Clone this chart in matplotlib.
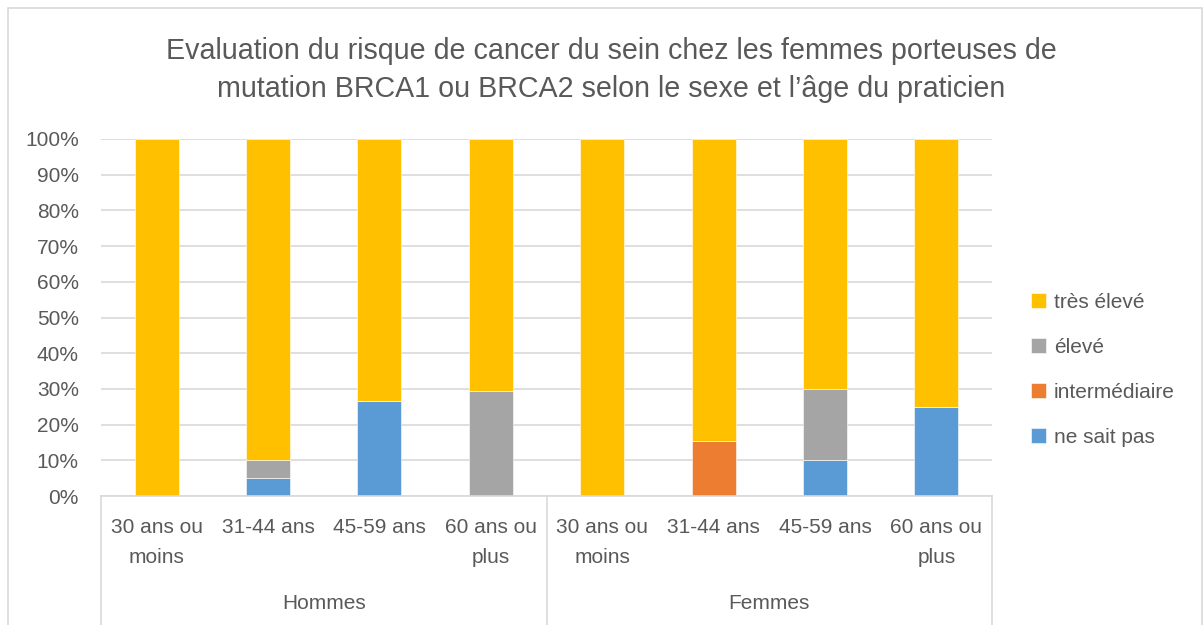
import numpy as np
import matplotlib
matplotlib.use('Agg')
import matplotlib.pyplot as plt
from matplotlib.transforms import blended_transform_factory

# data (percent)
age_labels = ['30 ans ou\nmoins', '31-44 ans', '45-59 ans', '60 ans ou\nplus',
              '30 ans ou\nmoins', '31-44 ans', '45-59 ans', '60 ans ou\nplus']
groups = ['Hommes', 'Femmes']
ne_sait_pas = [0, 5, 26.7, 0, 0, 0, 10, 25]
intermediaire = [0, 0, 0, 0, 0, 15.4, 0, 0]
eleve = [0, 5, 0, 29.4, 0, 0, 20, 0]
tres_eleve = [100, 90, 73.3, 70.6, 100, 84.6, 70, 75]

series = [('ne sait pas', ne_sait_pas, '#5B9BD5'),
          ('intermédiaire', intermediaire, '#ED7D31'),
          ('élevé', eleve, '#A5A5A5'),
          ('très élevé', tres_eleve, '#FFC000')]

txt = '#595959'
grid = '#D9D9D9'
plt.rcParams['font.family'] = ['Liberation Sans', 'DejaVu Sans']

fig = plt.figure(figsize=(12.03, 6.25), dpi=100)
ax = fig.add_axes([101/1203, 1-496/625, (992-101)/1203, (496-139)/625])

x = np.arange(len(age_labels))
bottom = np.zeros(len(x))
handles = []
for name, vals, col in series:
    b = ax.bar(x, vals, 0.395, bottom=bottom, color=col, label=name,
               edgecolor='white', linewidth=0.4, zorder=3)
    handles.append(b)
    bottom += np.array(vals)

ax.set_xlim(-0.5, len(x) - 0.5)
ax.set_ylim(0, 100)
ax.set_yticks(np.arange(0, 101, 10))
ax.set_yticklabels([f'{v}%' for v in range(0, 101, 10)])
ax.yaxis.grid(True, color=grid, linewidth=1.2, zorder=0)
ax.tick_params(axis='y', length=0, pad=16, labelsize=15, labelcolor=txt)
for s in ax.spines.values():
    s.set_visible(False)

ax.set_xticks(x)
ax.set_xticklabels(age_labels, fontsize=15, color=txt, linespacing=1.75)
ax.tick_params(axis='x', length=0, pad=16)

# multi-level category axis lines
tr = blended_transform_factory(ax.transData, ax.transAxes)
ax.plot([-0.5, 7.5], [0, 0], color=grid, lw=1.2, transform=tr, clip_on=False, zorder=4)
for xv in [-0.5, 3.5, 7.5]:
    ax.plot([xv, xv], [0, -0.36], color=grid, lw=1.2, transform=tr, clip_on=False)
for i, g in enumerate(groups):
    ax.text(1.5 + 4 * i, -0.302, g, transform=tr, ha='center', va='center',
            fontsize=15, color=txt)

fig.text(611/1203, 1-51/625, 'Evaluation du risque de cancer du sein chez les femmes porteuses de',
         ha='center', va='center', fontsize=20.6, color=txt)
fig.text(611/1203, 1-89/625, 'mutation BRCA1 ou BRCA2 selon le sexe et l\u2019âge du praticien',
         ha='center', va='center', fontsize=20.6, color=txt)

leg = fig.legend(handles[::-1], [s[0] for s in series][::-1], loc='center left',
                 bbox_to_anchor=(1012/1203, 1-370/625), frameon=False,
                 fontsize=15, labelcolor=txt, handlelength=0.75, handleheight=0.75,
                 handletextpad=0.35, labelspacing=1.25)

# chart border
fig.add_artist(plt.Rectangle((8/1203, -0.01), 1194/1203, 1-8/625+0.01,
                             transform=fig.transFigure, fill=False,
                             edgecolor=grid, lw=1.2))

fig.savefig('out.png', dpi=100, facecolor='white')
